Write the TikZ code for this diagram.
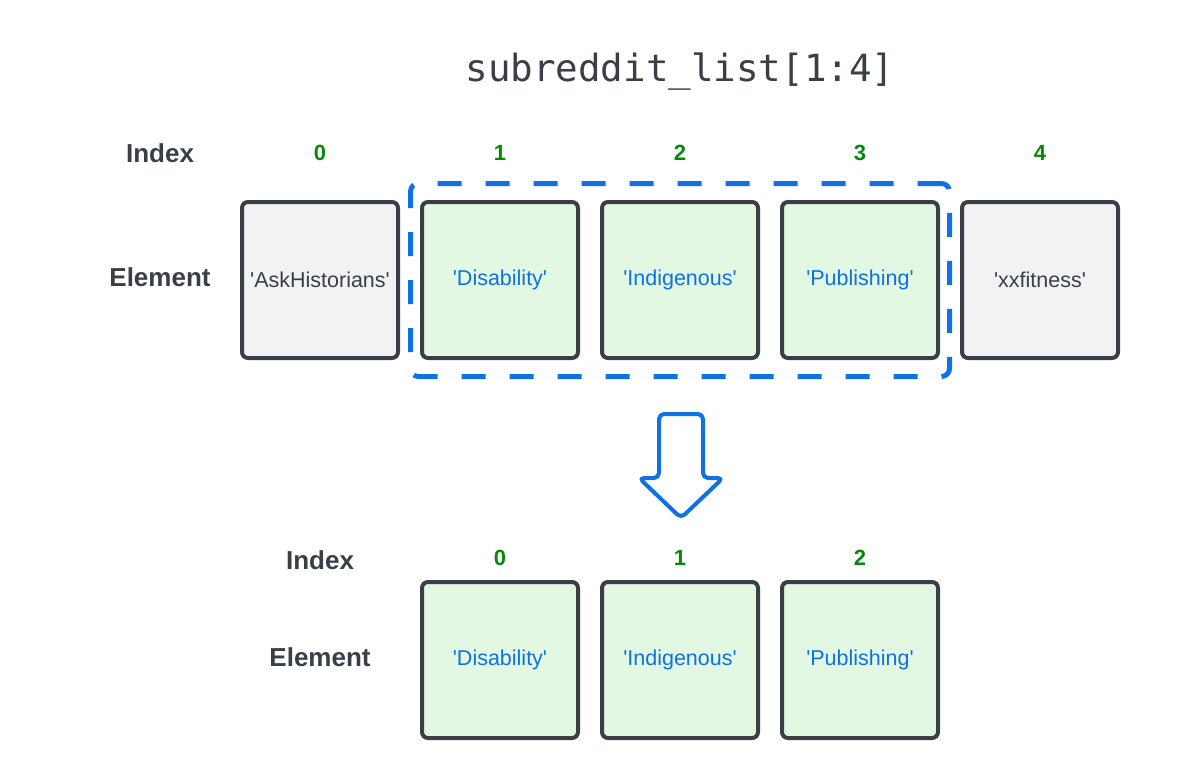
\documentclass[tikz,border=0pt]{standalone}
\usepackage{fontspec}
\setmainfont{Liberation Sans}
\newfontfamily\codefont{DejaVu Sans Mono}
\usetikzlibrary{%
    fit,
    positioning
}
\definecolor{slate}{RGB}{58,63,71}
\definecolor{cellgray}{RGB}{241,242,244}
\definecolor{cellgreen}{RGB}{226,248,226}
\definecolor{sliceblue}{RGB}{16,113,229}
\definecolor{idxgreen}{RGB}{8,136,8}
\newcommand{\pyq}[1]{\textquotesingle#1\textquotesingle}
\tikzset{
    cell/.style={draw=slate, line width=4pt, rounded corners=6pt,
                 minimum size=156pt, inner sep=0pt,
                 font=\fontsize{21.5}{25}\selectfont},
    oldcell/.style={cell, fill=cellgray, text=slate},
    newcell/.style={cell, fill=cellgreen, text=sliceblue},
    idx/.style={text=idxgreen, font=\bfseries\fontsize{22}{26}\selectfont},
    rowlabel/.style={text=slate, font=\bfseries\fontsize{26}{30}\selectfont},
    slice/.style={draw=sliceblue, line width=5pt, rounded corners=8pt,
                  dash pattern=on 24pt off 24pt,
                  inner xsep=9.5pt, inner ysep=16.5pt},
    bigarrow/.style={draw=sliceblue, line width=4pt, rounded corners=5pt,
                     line join=round}
}

\begin{document}
\begin{tikzpicture}[x=1pt, y=-1pt]
    \useasboundingbox (0,0) rectangle (1200,780);
    \node (title) at (680,72) {\codefont\fontsize{37.5}{40}\selectfont\color{slate}subreddit\_list[1:4]};

    % original list
    \node[rowlabel] (topindex) at (160,153) {Index};
    \node[rowlabel] (topelement) at (160,277) {Element};
    \foreach \Name/\Style [count=\i from 0] in {%
        AskHistorians/oldcell,
        Disability/newcell,
        Indigenous/newcell,
        Publishing/newcell,
        xxfitness/oldcell%
    }
    {
        \node[\Style] (top-\i) at ({320+180*\i},280) {\pyq{\Name}};
        \node[idx] (topidx-\i) at ({320+180*\i},153) {\i};
    }
    \node[slice, fit=(top-1)(top-3)] (slice) {};

    \draw[bigarrow] (659,414) -- (703,414) -- (703,478) -- (723,478)
        -- (681,518) -- (639,478) -- (659,478) -- cycle;

    % sliced list
    \node[rowlabel] (botindex) at (320,560) {Index};
    \node[rowlabel] (botelement) at (320,657) {Element};
    \foreach \Name [count=\i from 0] in {Disability, Indigenous, Publishing}
    {
        \node[newcell] (bot-\i) at ({500+180*\i},660) {\pyq{\Name}};
        \node[idx] (botidx-\i) at ({500+180*\i},558) {\i};
    }
\end{tikzpicture}
\end{document}
